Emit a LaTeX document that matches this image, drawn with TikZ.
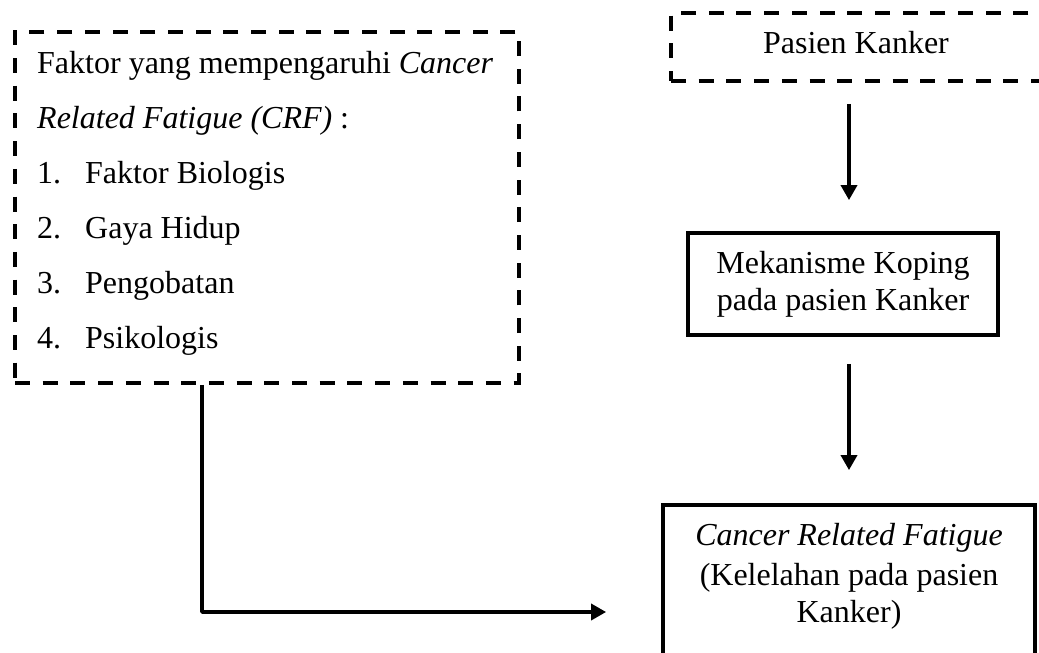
\documentclass[tikz,border=0pt]{standalone}
\usepackage{fontspec}
\setmainfont{Liberation Serif}
\usetikzlibrary{arrows.meta,calc}
\tikzset{
  dashbox/.style={draw, line width=3.5pt, dash pattern=on 15pt off 12.7pt, inner sep=0pt},
  solidbox/.style={draw, line width=3.8pt, inner sep=0pt},
  txt/.style={inner sep=0pt, font=\fontsize{32}{36}\selectfont},
  conn/.style={line width=3.5pt, -{Triangle[width=16pt,length=15pt]}}
}
\begin{document}
\begin{tikzpicture}[x=1pt,y=-1pt]
\clip (0,0) rectangle (1039,653);
\fill[white] (0,0) rectangle (1039,653);
% boxes
\node[dashbox, minimum width=504pt, minimum height=351pt] (faktor) at (267,207.5) {};
\node[dashbox, minimum width=394pt, minimum height=68pt] (pasien) at (868,47) {};
\node[solidbox, minimum width=310pt, minimum height=102pt] (koping) at (843,284) {};
\node[solidbox, minimum width=372pt, minimum height=170pt] (crf) at (849,590) {};
% texts
\node[txt, anchor=base west] (f1) at (37,73) {Faktor yang mempengaruhi \textit{Cancer}};
\node[txt, anchor=base west] (f2) at (37,128) {\textit{Related Fatigue (CRF)} :};
\node[txt, anchor=base west] (n1) at (37,183) {1.};
\node[txt, anchor=base west] (i1) at (85,183) {Faktor Biologis};
\node[txt, anchor=base west] (n2) at (37,238) {2.};
\node[txt, anchor=base west] (i2) at (85,238) {Gaya Hidup};
\node[txt, anchor=base west] (n3) at (37,293) {3.};
\node[txt, anchor=base west] (i3) at (85,293) {Pengobatan};
\node[txt, anchor=base west] (n4) at (37,348) {4.};
\node[txt, anchor=base west] (i4) at (85,348) {Psikologis};
\node[txt, anchor=base] (p1) at (856,53) {Pasien Kanker};
\node[txt, anchor=base] (k1) at (843,273) {Mekanisme Koping};
\node[txt, anchor=base] (k2) at (843,310) {pada pasien Kanker};
\node[txt, anchor=base] (c1) at (849,545) {\textit{Cancer Related Fatigue}};
\node[txt, anchor=base] (c2) at (849,585) {(Kelelahan pada pasien};
\node[txt, anchor=base] (c3) at (849,622) {Kanker)};
% connectors
\draw[conn, shorten <=21pt, shorten >=31pt] (pasien.south -| crf.north) -- (koping.north -| crf.north);
\draw[conn, shorten <=27pt, shorten >=33pt] (koping.south -| crf.north) -- (crf.north);
\coordinate (bend) at (202,612);
\draw[conn, shorten >=55pt, line join=round] (faktor.south -| bend) -- (bend) -- (bend -| crf.west);
\end{tikzpicture}
\end{document}
